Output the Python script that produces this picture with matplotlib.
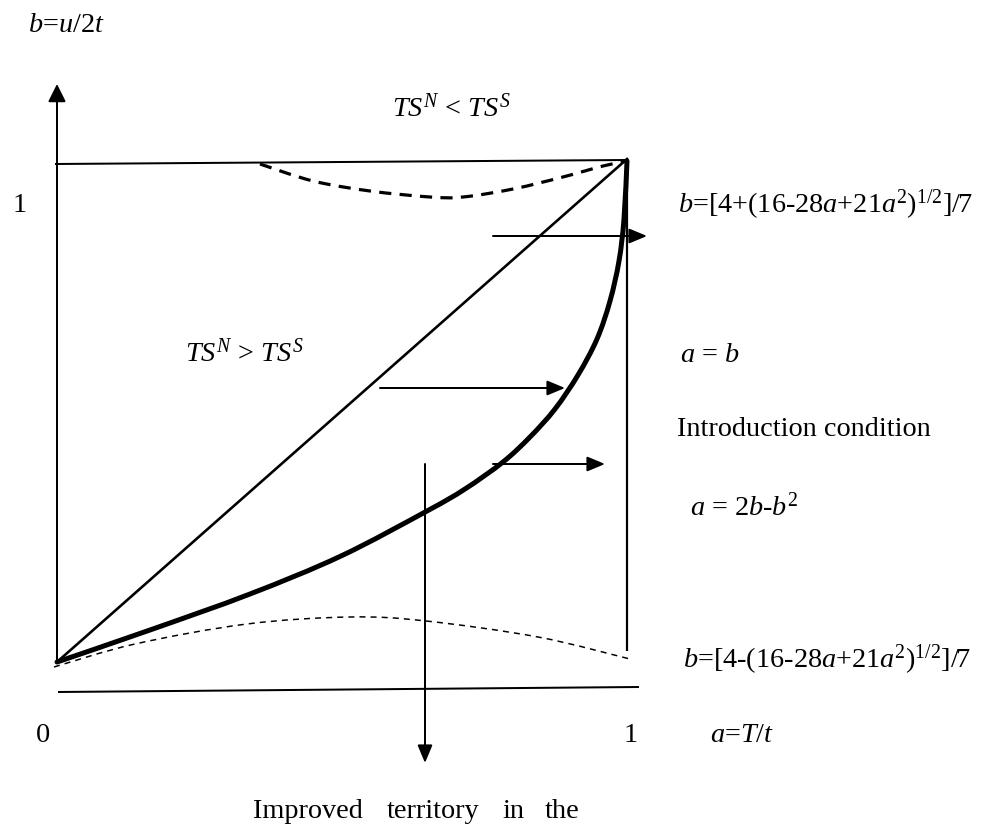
import matplotlib
matplotlib.use("Agg")
import matplotlib.pyplot as plt
from matplotlib.path import Path
from matplotlib.patches import PathPatch

plt.rcParams["font.family"] = "Liberation Serif"
plt.rcParams["mathtext.fontset"] = "custom"
plt.rcParams["mathtext.rm"] = "Liberation Serif"
plt.rcParams["mathtext.it"] = "Liberation Serif:italic"

# --- curves (canvas units, y grows downward) ---
diag_x = [57, 627]
diag_y = [663, 160]

intro_x = [57, 150, 250, 341, 427, 465, 503, 530, 555, 578, 597, 610, 619, 624, 627]
intro_y = [663, 631, 595, 557, 512, 490, 463, 438, 410, 376, 340, 302, 262, 220, 162]

upper_x = [260, 313, 370, 430, 463, 513, 563, 603, 627]
upper_y = [165, 182, 192, 198, 198, 190, 178, 167, 162]

lower_x = [54, 135, 247, 350, 426, 538, 630]
lower_y = [668, 645, 625, 618, 622, 638, 660]

top_x, top_y = [55, 627], [165, 161]
base_x, base_y = [58, 639], [693, 688]
right_x, right_y = [627, 627], [160, 652]

# arrows: (start, tip)
yaxis_arrow = ((57, 663), (57, 85))
shift_arrows = [((493, 237), (647, 237)),
                ((380, 389), (565, 389)),
                ((493, 465), (605, 465))]
down_arrow = ((425, 465), (425, 764))

labels = [
    (28, 25, r"$b$=$u$/2$t$"),
    (392, 108, r"$TS^N$ < $TS^S$"),
    (13, 205, "1"),
    (678, 205, r"$b$=[4+(16-28$a$+21$a^2)^{1/2}$]/7"),
    (185, 353, r"$TS^N$ > $TS^S$"),
    (680, 355, r"$a$ = $b$"),
    (677, 430, "Introduction condition"),
    (690, 507, r"$a$ = 2$b$-$b^2$"),
    (683, 660, r"$b$=[4-(16-28$a$+21$a^2)^{1/2}$]/7"),
    (36, 735, "0"),
    (624, 735, "1"),
    (710, 735, r"$a$=$T$/$t$"),
]
bottom_words = ["Improved", "territory", "in", "the"]
bottom_word_x = [253, 387, 502, 545]
bottom_word_y = 812

PX = 0.72  # points per pixel at dpi=100
FS = 20.3


def smooth_path(xs, ys):
    """Cubic Bezier path passing through every point (Catmull-Rom tangents)."""
    pts = list(zip(xs, ys))
    verts, codes = [pts[0]], [Path.MOVETO]
    for i in range(len(pts) - 1):
        p0 = pts[i - 1] if i > 0 else pts[i]
        p1, p2 = pts[i], pts[i + 1]
        p3 = pts[i + 2] if i + 2 < len(pts) else pts[i + 1]
        c1 = (p1[0] + (p2[0] - p0[0]) / 6, p1[1] + (p2[1] - p0[1]) / 6)
        c2 = (p2[0] - (p3[0] - p1[0]) / 6, p2[1] - (p3[1] - p1[1]) / 6)
        verts += [c1, c2, p2]
        codes += [Path.CURVE4] * 3
    return Path(verts, codes)


fig = plt.figure(figsize=(9.84, 8.29), dpi=100)
ax = fig.add_axes([0, 0, 1, 1])
ax.set_xlim(0, 984)
ax.set_ylim(829, 0)
ax.axis("off")

ax.plot(top_x, top_y, color="k", lw=2 * PX, solid_capstyle="butt")
ax.plot(base_x, base_y, color="k", lw=2 * PX, solid_capstyle="butt")
ax.plot(right_x, right_y, color="k", lw=2.2 * PX, solid_capstyle="butt")
ax.plot(diag_x, diag_y, color="k", lw=2.6 * PX)
ax.add_patch(PathPatch(smooth_path(intro_x, intro_y), fill=False,
                       edgecolor="k", lw=5 * PX, capstyle="round"))
ax.add_patch(PathPatch(smooth_path(upper_x, upper_y), fill=False,
                       edgecolor="k", lw=3.2 * PX,
                       linestyle=(0, (3.8, 2.6))))
ax.add_patch(PathPatch(smooth_path(lower_x, lower_y), fill=False,
                       edgecolor="k", lw=1.5 * PX,
                       linestyle=(0, (4, 3.4))))

arrow_kw = dict(arrowstyle="-|>,head_length=0.6,head_width=0.25",
                color="k", lw=2 * PX, mutation_scale=18,
                shrinkA=0, shrinkB=0)
ax.annotate("", xy=yaxis_arrow[1], xytext=yaxis_arrow[0],
            arrowprops=dict(arrow_kw, arrowstyle="-|>,head_length=0.6,head_width=0.3"))
for start, tip in shift_arrows:
    ax.annotate("", xy=tip, xytext=start, arrowprops=arrow_kw)
ax.annotate("", xy=down_arrow[1], xytext=down_arrow[0], arrowprops=arrow_kw)

for x, y, s in labels:
    ax.text(x, y, s, fontsize=FS, ha="left", va="center")
for x, w in zip(bottom_word_x, bottom_words):
    ax.text(x, bottom_word_y, w, fontsize=FS, ha="left", va="center")

fig.savefig("out.png", dpi=100)
